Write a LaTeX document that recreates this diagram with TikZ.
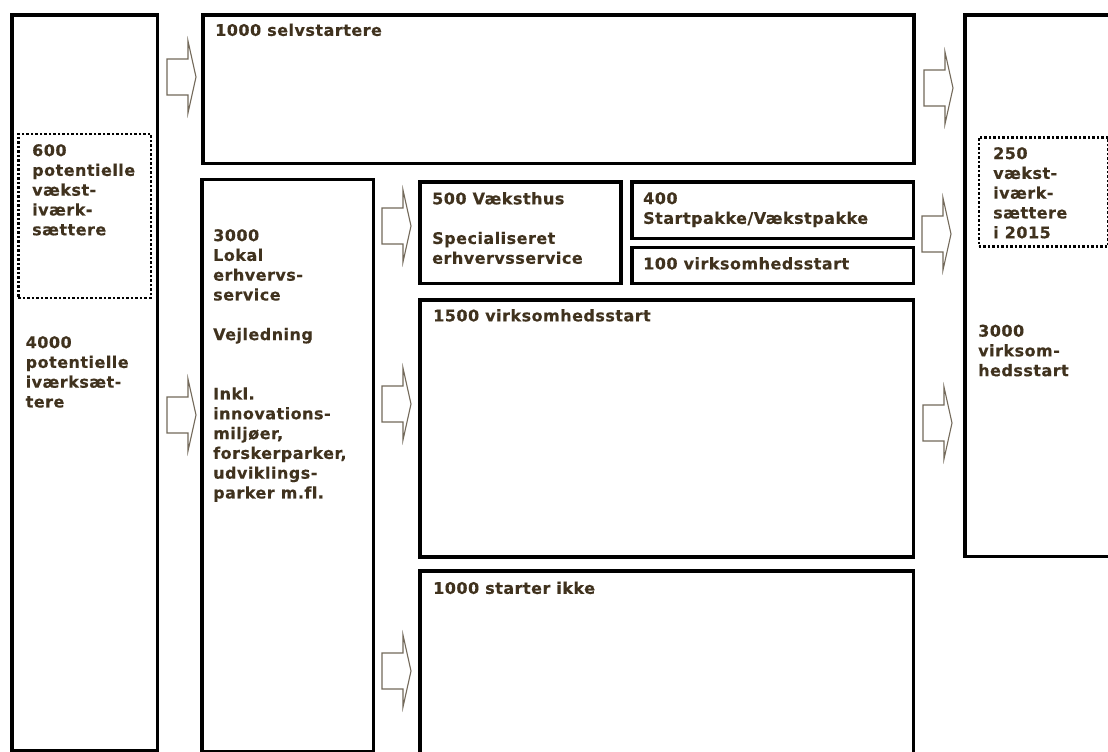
\documentclass[tikz,border=0pt]{standalone}
\usepackage{fontspec}
\setmainfont{DejaVu Sans}[LetterSpace=3, Ligatures=NoCommon, BoldFeatures={FakeBold=0.3}]
\definecolor{txtc}{RGB}{64,50,30}
\definecolor{arrc}{RGB}{115,105,90}
\newcommand\barrow[2]{%
  \draw[arr] (#1,#2-18) -- (#1+21,#2-18) -- (#1+21,#2-36) -- (#1+29,#2) -- (#1+21,#2+36) -- (#1+21,#2+18) -- (#1,#2+18) -- cycle;}
\tikzset{
  box/.style={draw=black, line width=3.5pt, rectangle, inner sep=0pt, anchor=north west},
  dotbox/.style={draw=black, line width=2.7pt, dash pattern=on 2.5pt off 2pt, rectangle, inner sep=0pt, anchor=north west},
  txt/.style={anchor=north west, inner sep=0pt, align=left, text=txtc, font=\fontsize{16}{19.8}\selectfont\bfseries},
  arr/.style={draw=arrc, line width=1.1pt, fill=white, line join=miter}
}
\begin{document}
\begin{tikzpicture}[x=1pt,y=-1pt]
\clip (0,0) rectangle (1108,752);
\fill[white] (0,0) rectangle (1108,752);
% boxes
\node[box, minimum width=145.5pt, minimum height=735pt] (L) at (10,13.5) {};
\node[dotbox, minimum width=132.5pt, minimum height=164pt] (dL) at (17,132.5) {};
\node[box, minimum width=711pt, minimum height=148pt] (top) at (201,13.5) {};
\node[box, minimum width=171.5pt, minimum height=572pt] (lok) at (200,177.5) {};
\node[box, minimum width=201pt, minimum height=101.5pt] (vaek) at (418,180) {};
\node[box, minimum width=281.5pt, minimum height=56.5pt] (start) at (630,180) {};
\node[box, minimum width=281.5pt, minimum height=36pt] (hund) at (630,245.5) {};
\node[box, minimum width=493.5pt, minimum height=257pt] (v1500) at (418,298) {};
\node[box, minimum width=493.5pt, minimum height=201pt] (ikke) at (418,569) {};
\node[box, minimum width=157pt, minimum height=541pt] (R) at (963,13.5) {};
\node[dotbox, minimum width=129.5pt, minimum height=109pt] (dR) at (977.5,136) {};
% arrows
\barrow{167}{77}
\barrow{167}{415}
\barrow{382}{226}
\barrow{382}{404}
\barrow{382}{671}
\barrow{924}{88}
\barrow{922}{234}
\barrow{923}{423}
% texts
\node[txt] (t600) at (32,144) {600\\potentielle\\vækst-\\iværk-\\sættere};
\node[txt] (t4000) at (25.5,336) {4000\\potentielle\\iværksæt-\\tere};
\node[txt] (tself) at (215,23.5) {1000 selvstartere};
\node[txt] (tlok) at (213,229) {3000\\Lokal\\erhvervs-\\service\\[19.8pt]Vejledning\\[39.6pt]Inkl.\\innovations-\\miljøer,\\forskerparker,\\udviklings-\\parker m.fl.};
\node[txt] (tvaek) at (432,192) {500 Væksthus\\[19.8pt]Specialiseret\\erhvervsservice};
\node[txt] (tstart) at (643,192) {400\\Startpakke/Vækstpakke};
\node[txt] (thund) at (643,257) {100 virksomhedsstart};
\node[txt] (t1500) at (433,309) {1500 virksomhedsstart};
\node[txt] (tikke) at (433,581.5) {1000 starter ikke};
\node[txt] (t250) at (993,147) {250\\vækst-\\iværk-\\sættere\\i 2015};
\node[txt] (t3000) at (978,324.5) {3000\\virksom-\\hedsstart};
\end{tikzpicture}
\end{document}
